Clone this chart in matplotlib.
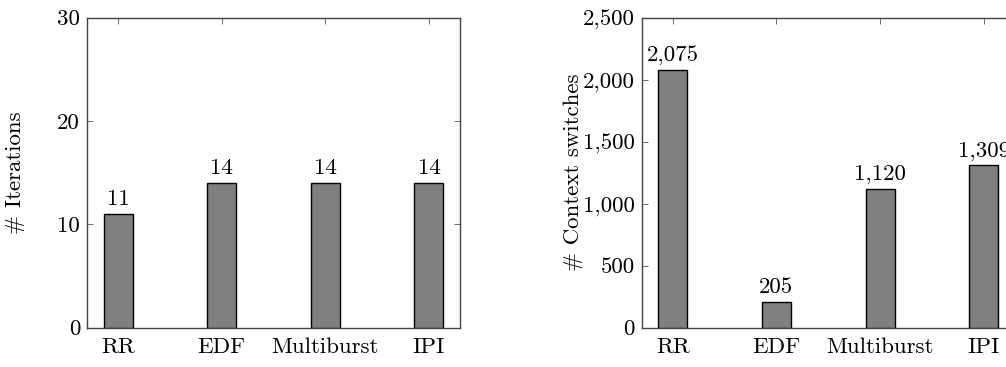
import matplotlib.pyplot as plt
from matplotlib.ticker import FuncFormatter

plt.rcParams['font.family'] = 'cmr10'
plt.rcParams['mathtext.fontset'] = 'cm'
plt.rcParams['axes.formatter.use_mathtext'] = True

schedulers = ["RR", "EDF", "Multiburst", "IPI"]
iterations = [11, 14, 14, 14]
ctx_switches = [2075, 205, 1120, 1309]

fig = plt.figure(figsize=(10.06, 3.67), dpi=100)
ax1 = fig.add_axes([0.0865, 0.107, 0.3708, 0.8447])
ax2 = fig.add_axes([0.6379, 0.107, 0.3708, 0.8447])

fs = 16.5
comma = FuncFormatter(lambda v, p: f"{int(v):,}")


def draw(ax, vals, ymax, step, ylabel, label_x):
    x = range(len(schedulers))
    ax.bar(x, vals, width=0.28, color="#808080", edgecolor="black", linewidth=1.0, zorder=3)
    for xi, v in zip(x, vals):
        ax.annotate(f"{v:,}", (xi, v), xytext=(0, 3.5), textcoords="offset points",
                    ha="center", va="bottom", fontsize=fs)
    ax.set_xlim(-0.3, 3.3)
    ax.set_ylim(0, ymax)
    ax.set_xticks(list(x))
    ax.set_xticklabels(schedulers, fontsize=fs)
    ax.set_yticks(range(0, ymax + 1, step))
    ax.yaxis.set_major_formatter(comma)
    ax.tick_params(axis="both", direction="in", length=4, width=0.6, color="#555555",
                   top=True, right=True, labelsize=fs)
    ax.tick_params(axis="x", pad=7)
    ax.tick_params(axis="y", pad=5)
    for s in ax.spines.values():
        s.set_color("#444444")
        s.set_linewidth(1.0)
    ax.set_ylabel(ylabel, fontsize=fs)
    ax.yaxis.set_label_coords(label_x, 0.5)


draw(ax1, iterations, 30, 10, "# Iterations", -0.166)
draw(ax2, ctx_switches, 2500, 500, "# Context switches", -0.157)

fig.savefig("out.png", dpi=100)
